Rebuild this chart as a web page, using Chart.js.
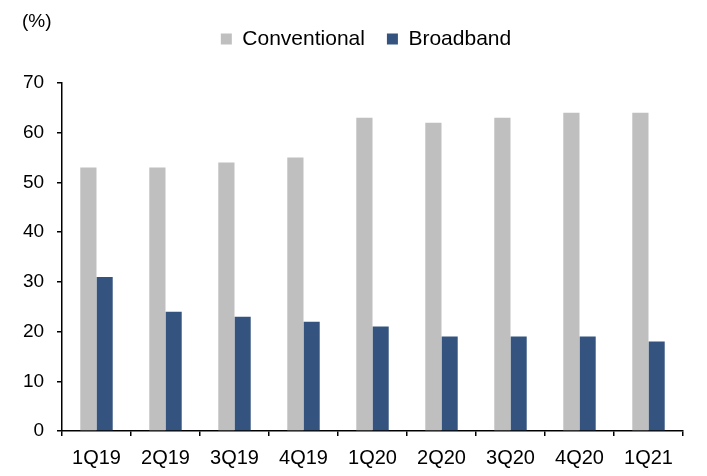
<!DOCTYPE html>
<html>
<head>
<meta charset="utf-8">
<script src="https://cdn.jsdelivr.net/npm/chart.js@4.4.1/dist/chart.umd.min.js"></script>
<style>
    body { margin: 0; background: #fff; }
    #wrap { width: 707px; height: 476px; }
</style>
</head>
<body>
<div id="wrap"><canvas id="chart" width="707" height="476"></canvas></div>
<script>
var quarters = ["1Q19", "2Q19", "3Q19", "4Q19", "1Q20", "2Q20", "3Q20", "4Q20", "1Q21"];
var conventional = [53, 53, 54, 55, 63, 62, 63, 64, 64];
var broadband = [31, 24, 23, 22, 21, 19, 19, 19, 18];
var yMin = 0, yMax = 70, yStep = 10;
var unitLabel = "(%)";

const FONT = "'Liberation Sans', Arial, sans-serif";

// draws the "(%)" unit text in the top left corner
var unitPlugin = {
    id: 'unitLabel',
    afterDraw(chart) {
        const ctx = chart.ctx;
        ctx.save();
        ctx.font = "19px " + FONT;
        ctx.fillStyle = "#000";
        ctx.textBaseline = "middle";
        ctx.textAlign = "left";
        ctx.fillText(unitLabel, 22, 22);
        ctx.restore();
    }
};

function axisLine() {
    return {
        grid: {
            drawOnChartArea: false,
            drawTicks: true,
            tickLength: 5,
            color: "#000",
            lineWidth: 1.5
        },
        border: { display: true, color: "#000", width: 1.5 }
    };
}

var xAxis = axisLine();
xAxis.ticks = { color: "#000", padding: 10, font: { family: FONT, size: 20 } };
xAxis.afterFit = function (scale) { scale.height = 45; };

// the axis box is kept narrow so the legend centres like the original;
// mirror + negative padding puts the labels back left of the axis (and avoids the label clip)
var yAxis = axisLine();
yAxis.min = yMin;
yAxis.max = yMax;
yAxis.ticks = {
    stepSize: yStep, color: "#000", mirror: true, crossAlign: 'far', padding: -39,
    font: { family: FONT, size: 19 }
};
yAxis.afterFit = function (scale) { scale.width = 13; };

new Chart(document.getElementById("chart"), {
    type: 'bar',
    data: {
        labels: quarters,
        datasets: [
            { label: "Conventional", data: conventional, backgroundColor: "#BFBFBF" },
            { label: "Broadband", data: broadband, backgroundColor: "#34547F" }
        ]
    },
    options: {
        responsive: false,
        animation: false,
        layout: { padding: { left: 49, right: 24, top: 6.5, bottom: 0 } },
        datasets: {
            bar: { barPercentage: 1, categoryPercentage: 0.47 }
        },
        scales: { x: xAxis, y: yAxis },
        plugins: {
            legend: {
                position: 'top',
                labels: {
                    color: "#000",
                    boxWidth: 11,
                    boxHeight: 11,
                    padding: 22,
                    font: { family: FONT, size: 21 }
                }
            },
            // empty spacer between legend and plot
            subtitle: {
                display: true,
                text: " ",
                weight: 500,
                font: { size: 1, lineHeight: 1 },
                padding: { top: 22.5, bottom: 0 }
            },
            tooltip: { enabled: false }
        }
    },
    plugins: [unitPlugin]
});
</script>
</body>
</html>
